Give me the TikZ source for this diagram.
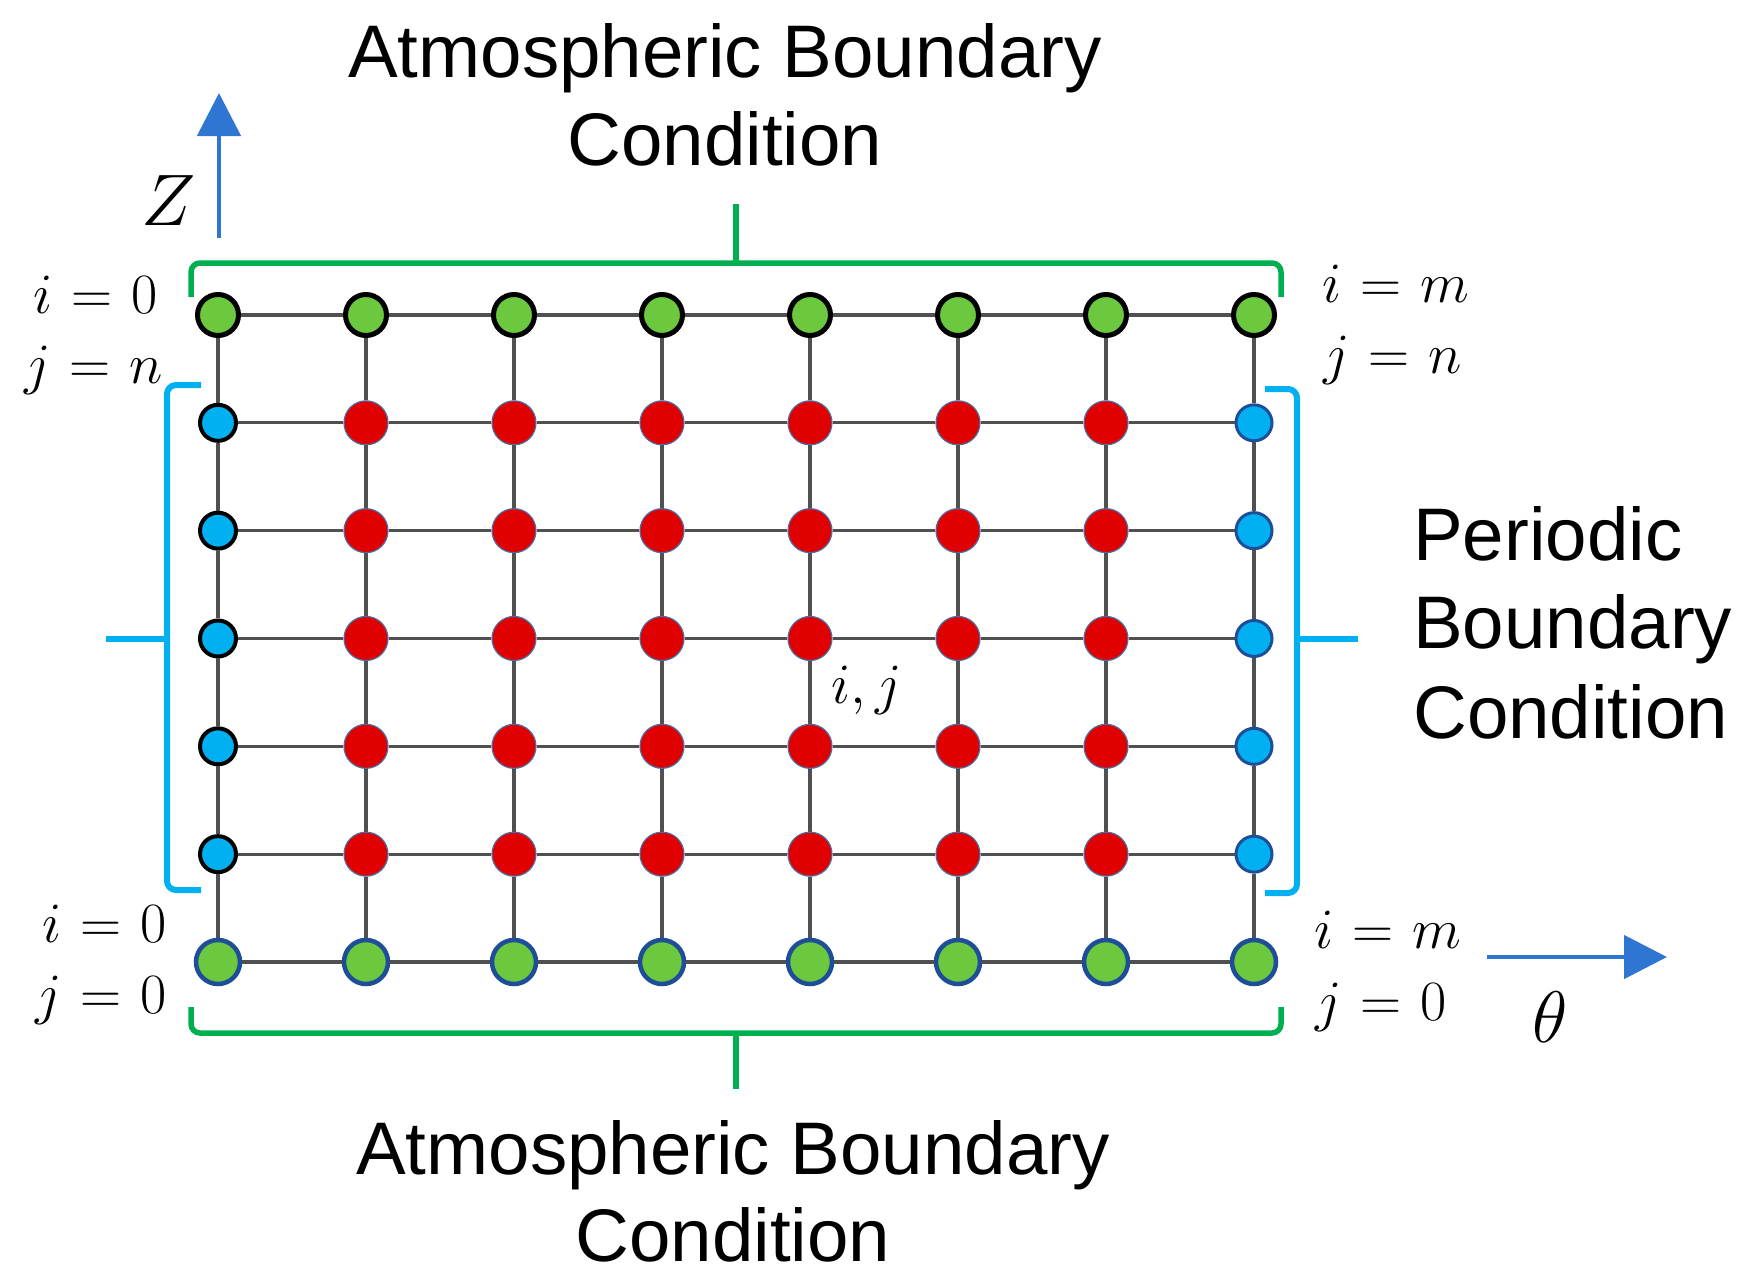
\RequirePackage{fix-cm}
\documentclass[tikz,border=0pt]{standalone}
\usepackage{fontspec}
\newfontfamily\labelfont{Liberation Sans}
\usetikzlibrary{arrows.meta}
\definecolor{gfill}{HTML}{6CC83E}
\definecolor{gbrk}{HTML}{00B050}
\definecolor{cyanb}{HTML}{00B0F0}
\definecolor{redc}{HTML}{E00000}
\definecolor{axisblue}{HTML}{2F76D2}
\definecolor{darkb}{HTML}{1F4E99}
\definecolor{gridg}{HTML}{505050}
\definecolor{redborder}{HTML}{4A6FA5}
\newcommand{\idxmath}[1]{$\thickmuskip=6mu\relax #1$}
\tikzset{
  topg/.style={circle, fill=gfill, draw=black, line width=5, minimum size=41, inner sep=0},
  botg/.style={circle, fill=gfill, draw=darkb, line width=4.5, minimum size=44, inner sep=0},
  leftb/.style={circle, fill=cyanb, draw=black, line width=4, minimum size=36, inner sep=0},
  rightb/.style={circle, fill=cyanb, draw=darkb, line width=3, minimum size=36, inner sep=0},
  rednode/.style={circle, fill=redc, draw=redborder, line width=1.2, minimum size=44, inner sep=0},
  gridline/.style={draw=gridg, line width=3.3},
  gbr/.style={draw=gbrk, line width=5.5, rounded corners=9},
  cbr/.style={draw=cyanb, line width=6, rounded corners=9},
  axis/.style={draw=axisblue, line width=4.8, -{Triangle[width=43pt,length=43pt]}},
  lbl/.style={font=\labelfont\fontsize{74.5}{88}\selectfont, inner sep=0},
  mlbl/.style={font=\fontsize{57}{60}\selectfont, inner sep=0, anchor=base east},
  axlbl/.style={font=\fontsize{73}{80}\selectfont, inner sep=0}
}
\begin{document}
\begin{tikzpicture}[x=1pt,y=-1pt]
\fill[white] (0,0) rectangle (1746,1285);
\useasboundingbox (0,0) rectangle (1746,1285);
% nodes
\foreach \c in {0,...,7}{
  \foreach \r in {0,...,6}{
    \ifnum\r=0 \def\st{topg}\else
      \ifnum\r=6 \def\st{botg}\else
        \ifnum\c=0 \def\st{leftb}\else
          \ifnum\c=7 \def\st{rightb}\else \def\st{rednode}\fi\fi\fi\fi
    \node[\st] (n-\c-\r) at ({218+\c*148},{315+\r*107.83}) {};
  }
}
% grid connectors
\foreach \c in {0,...,6}{
  \pgfmathtruncatemacro{\cc}{\c+1}
  \foreach \r in {0,...,6}{
    \draw[gridline] (n-\c-\r) -- (n-\cc-\r);
  }
}
\foreach \c in {0,...,7}{
  \foreach \r in {0,...,5}{
    \pgfmathtruncatemacro{\rr}{\r+1}
    \draw[gridline] (n-\c-\r) -- (n-\c-\rr);
  }
}
% brackets
\draw[gbr] (191,297) -- (191,263) -- (1281,263) -- (1281,297);
\draw[draw=gbrk, line width=5.5] (736,263) -- (736,204);
\draw[gbr] (191,1007) -- (191,1033) -- (1281,1033) -- (1281,1007);
\draw[draw=gbrk, line width=5.5] (736,1033) -- (736,1089);
\draw[cbr] (201,385) -- (167,385) -- (167,890) -- (201,890);
\draw[draw=cyanb, line width=6] (167,639) -- (106,639);
\draw[cbr] (1265,389) -- (1297,389) -- (1297,893) -- (1265,893);
\draw[draw=cyanb, line width=6] (1297,639) -- (1358,639);
% axes
\coordinate (zs) at (219,238);
\coordinate (ze) at (219,93);
\draw[axis] (zs) -- (ze);
\coordinate (ts) at (1487,957);
\coordinate (te) at (1667,957);
\draw[axis] (ts) -- (te);
\node[axlbl] (zl) at (169,201) {$Z$};
\node[axlbl] (tl) at (1550,1017) {$\theta$};
% texts
\node[lbl, anchor=base] (topt1) at (725,77) {Atmospheric Boundary};
\node[lbl, anchor=base] (topt2) at (725,165) {Condition};
\node[lbl, anchor=base] (bott1) at (733,1174) {Atmospheric Boundary};
\node[lbl, anchor=base] (bott2) at (733,1261) {Condition};
\node[lbl, anchor=base west] (pbc1) at (1413,560) {Periodic};
\node[lbl, anchor=base west] (pbc2) at (1413,648) {Boundary};
\node[lbl, anchor=base west] (pbc3) at (1413,738) {Condition};
% index labels
\node[mlbl] (tl1) at (158,313) {\idxmath{i=0}};
\node[mlbl] (tl2) at (163,383) {\idxmath{j=n}};
\node[mlbl] (tr1) at (1470,302) {\idxmath{i=m}};
\node[mlbl] (tr2) at (1462,373) {\idxmath{j=n}};
\node[mlbl] (bl1) at (167,942) {\idxmath{i=0}};
\node[mlbl] (bl2) at (167,1013) {\idxmath{j=0}};
\node[mlbl] (br1) at (1462,948) {\idxmath{i=m}};
\node[mlbl] (br2) at (1447,1020) {\idxmath{j=0}};
\node[mlbl, anchor=base west] (ij) at (831,703) {$i,j$};
\end{tikzpicture}
\end{document}
